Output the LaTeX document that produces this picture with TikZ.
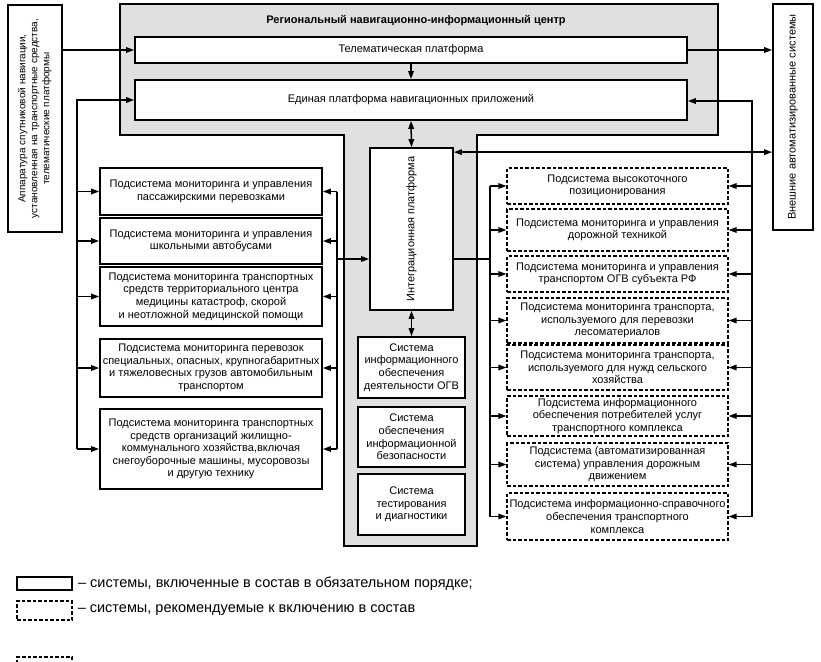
\documentclass[tikz,border=0pt]{standalone}
\usepackage{fontspec}
\setmainfont{Liberation Sans}
\usetikzlibrary{arrows.meta}
\definecolor{rnicgray}{RGB}{224,224,224}

\begin{document}
\begin{tikzpicture}[x=1pt,y=-1pt,
  every node/.style={font=\fontsize{11}{12.6}\selectfont,align=center,inner sep=1pt},
  sysbox/.style={draw,line width=1.7pt,fill=white},
  optbox/.style={draw,line width=1.1pt,dash pattern=on 3.5pt off 2pt,fill=white},
  wire/.style={line width=1.5pt},
  conn/.style={wire,-{Triangle[length=8pt,width=5.5pt]}},
  dconn/.style={wire,{Triangle[length=8pt,width=5.5pt]}-{Triangle[length=8pt,width=5.5pt]}}]
 \useasboundingbox (0,0) rectangle (821,661);
 % regional centre
 \draw[line width=1.7pt,fill=rnicgray] (120,4)--(718,4)--(718,135)--(477,135)--(477,546)--(344,546)--(344,135)--(120,135)--cycle;
 \node[font=\bfseries\fontsize{11}{13}\selectfont] (title) at (416,21) {Региональный навигационно-информационный центр};
 \node[sysbox,minimum width=552pt,minimum height=26pt] (tele) at (411,50) {Телематическая платформа};
 \node[sysbox,minimum width=552pt,minimum height=40pt] (edin) at (411,100) {Единая платформа навигационных приложений};
 \node[sysbox,minimum width=83pt,minimum height=162pt] (ip) at (411.5,229) {\rotatebox{90}{Интеграционная платформа}};
 \node[sysbox,minimum width=107pt,minimum height=61pt] (c1) at (411.5,367.5) {Система\\информационного\\обеспечения\\деятельности ОГВ};
 \node[sysbox,minimum width=107pt,minimum height=60pt] (c2) at (411.5,437) {Система\\обеспечения\\информационной\\безопасности};
 \node[sysbox,minimum width=107pt,minimum height=61pt] (c3) at (411.5,504.5) {Система\\тестирования\\и диагностики};
 % outer systems
 \node[sysbox,minimum width=54pt,minimum height=227pt] (app) at (35,118.5) {\rotatebox{90}{\fontsize{10}{12}\selectfont\begin{tabular}{@{}c@{}}Аппаратура спутниковой навигации,\\установленная на транспортные средства,\\телематические платформы\end{tabular}}};
 \node[sysbox,minimum width=40pt,minimum height=226pt] (ext) at (793,117) {\rotatebox{90}{Внешние автоматизированные системы}};
 % left column
 \node[sysbox,minimum width=222pt,minimum height=47pt] (l1) at (211,191.5) {Подсистема мониторинга и управления\\пассажирскими перевозками};
 \node[sysbox,minimum width=222pt,minimum height=46pt] (l2) at (211,241) {Подсистема мониторинга и управления\\школьными автобусами};
 \node[sysbox,minimum width=222pt,minimum height=59pt] (l3) at (211,296.5) {Подсистема мониторинга транспортных\\средств территориального центра\\медицины катастроф, скорой\\и неотложной медицинской помощи};
 \node[sysbox,minimum width=222pt,minimum height=58pt] (l4) at (211,368) {Подсистема мониторинга перевозок\\специальных, опасных, крупногабаритных\\и тяжеловесных грузов автомобильным\\транспортом};
 \node[sysbox,minimum width=222pt,minimum height=80pt] (l5) at (211,449) {Подсистема мониторинга транспортных\\средств организаций жилищно-\\коммунального хозяйства,включая\\снегоуборочные машины, мусоровозы\\и другую технику};
 % right column
 \node[optbox,minimum width=221pt,minimum height=36pt] (r1) at (617.5,186) {Подсистема высокоточного\\позиционирования};
 \node[optbox,minimum width=221pt,minimum height=42pt] (r2) at (617.5,230) {Подсистема мониторинга и управления\\дорожной техникой};
 \node[optbox,minimum width=221pt,minimum height=36pt] (r3) at (617.5,274) {Подсистема мониторинга и управления\\транспортом ОГВ субъекта РФ};
 \node[optbox,minimum width=221pt,minimum height=45pt] (r4) at (617.5,320.5) {Подсистема мониторинга транспорта,\\используемого для перевозки\\лесоматериалов};
 \node[optbox,minimum width=221pt,minimum height=45pt] (r5) at (617.5,367.5) {Подсистема мониторинга транспорта,\\используемого для нужд сельского\\хозяйства};
 \node[optbox,minimum width=221pt,minimum height=40pt] (r6) at (617.5,416) {Подсистема информационного\\обеспечения потребителей услуг\\транспортного комплекса};
 \node[optbox,minimum width=221pt,minimum height=43pt] (r7) at (617.5,464.5) {Подсистема (автоматизированная\\система) управления дорожным\\движением};
 \node[optbox,minimum width=221pt,minimum height=47pt] (r8) at (617.5,516.5) {Подсистема информационно-справочного\\обеспечения транспортного\\комплекса};
 % connectors
 \draw[conn] (app.east |- tele.west) -- (tele.west);
 \draw[conn] (tele.east) -- (ext.west |- tele.east);
 \draw[conn] (tele.south) -- (edin.north);
 \draw[dconn] (edin.south) -- (ip.north);
 \draw[dconn] (ip.south) -- (c1.north);
 \coordinate (ipin) at ([yshift=-5pt]ip.north east);
 \draw[dconn] (ipin) -- (ext.west |- ipin);
 \coordinate (lbus) at (77,100);
 \draw[conn] (lbus |- l5.west) -- (lbus) -- (edin.west);
 \foreach \n in {l1,l2,l3,l4,l5}
  \draw[conn] (lbus |- \n.west) -- (\n.west);
 \coordinate (libus) at (337,259);
 \draw[conn] (libus) -- (libus -| ip.west);
 \draw[wire] (libus |- l1.east) -- (libus |- l5.east);
 \foreach \n in {l1,l2,l3,l4,l5}
  \draw[conn] (libus |- \n.east) -- (\n.east);
 \coordinate (ribus) at (490,259);
 \draw[wire] (ip.east |- ribus) -- (ribus);
 \draw[wire] (ribus |- r1.west) -- (ribus |- r8.west);
 \foreach \n in {r1,r2,r3,r4,r5,r6,r7,r8}
  \draw[conn] (ribus |- \n.west) -- (\n.west);
 \coordinate (robus) at (752,101);
 \draw[conn] (robus |- r8.east) -- (robus) -- (robus -| edin.east);
 \foreach \n in {r1,r2,r3,r4,r5,r6,r7,r8}
  \draw[conn] (robus |- \n.east) -- (\n.east);
 % legend
 \node[sysbox,minimum width=55pt,minimum height=13pt] (legsys) at (44.5,583.5) {};
 \node[anchor=west,font=\fontsize{14.5}{17}\selectfont] (legsystxt) at (legsys.east) {~– системы, включенные в состав в обязательном порядке;};
 \node[optbox,minimum width=55pt,minimum height=19pt] (legopt) at (44.5,610.5) {};
 \node[anchor=west,font=\fontsize{14.5}{17}\selectfont] (legopttxt) at (legopt.east) {~– системы, рекомендуемые к включению в состав};
 \draw[line width=1.1pt,dash pattern=on 3.5pt off 2pt] (17,663) -- (17,657) -- (72,657) -- (72,663);
\end{tikzpicture}
\end{document}
